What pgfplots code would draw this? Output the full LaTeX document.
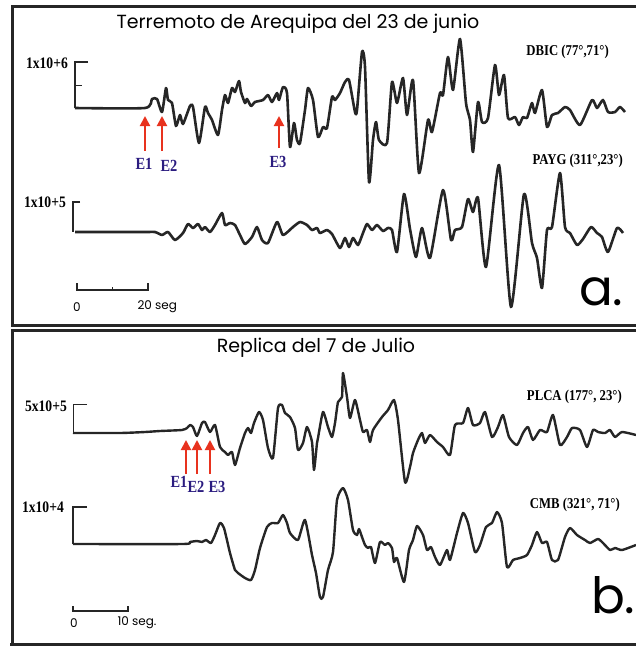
\documentclass[border=0pt]{standalone}
\usepackage{pgfplots}
\pgfplotsset{compat=1.18}
\usepackage{graphicx}
\usepackage{fontspec}
\setmainfont{Liberation Serif}
\newfontfamily\gothic{Poppins}
\usetikzlibrary{arrows.meta}
\definecolor{navy}{HTML}{2B1C80}
\definecolor{arr}{HTML}{E8321E}
\definecolor{trace}{HTML}{262626}
\newcommand{\cond}[2]{\scalebox{0.85}[1]{\bfseries\fontsize{#1}{#1}\selectfont #2}}
\begin{document}
\begin{tikzpicture}
\useasboundingbox (0,0) rectangle (636pt,646pt);
\begin{axis}[at={(0,0)},anchor=south west,scale only axis,width=636pt,height=646pt,
  xmin=0,xmax=636,ymin=0,ymax=646,y dir=reverse,hide axis,clip=false]
% frames
\draw[line width=3pt,black!85] (axis cs:12,646) -- (axis cs:12,330) -- (axis cs:636,330);
\draw[line width=3pt,black!85] (axis cs:10,644) -- (axis cs:636,644);
\draw[line width=3pt,black!85] (axis cs:636,6) -- (axis cs:12,6) -- (axis cs:12,325) -- (axis cs:636,325);
% titles
\node[font=\gothic\fontsize{19}{19}\selectfont] at (axis cs:298,24) {Terremoto de Arequipa del 23 de junio};
\node[font=\gothic\fontsize{19}{19}\selectfont] at (axis cs:316,348) {Replica del 7 de Julio};
\node[font=\gothic\fontsize{50}{50}\selectfont,anchor=base east] at (axis cs:627,305) {a.};
\node[font=\gothic\fontsize{50}{50}\selectfont,anchor=base east] at (axis cs:639,613) {b.};
% station labels
\node[anchor=east,inner sep=0pt] at (axis cs:609,52) {\cond{15}{DBIC (77°,71°)}};
\node[anchor=east,inner sep=0pt] at (axis cs:623,161) {\cond{15}{PAYG (311°,23°)}};
\node[anchor=east,inner sep=0pt] at (axis cs:622,397) {\cond{15}{PLCA (177°, 23°)}};
\node[anchor=east,inner sep=0pt] at (axis cs:620,505) {\cond{15}{CMB (321°, 71°)}};
% amplitude scale bars
\draw[line width=1.8pt,black!85] (axis cs:88,62) -- (axis cs:75,62) -- (axis cs:75,108);
\draw[line width=1pt,black!85] (axis cs:75,85) -- (axis cs:82,85);
\node[anchor=east,inner sep=0pt] at (axis cs:68,63) {\cond{16}{1x10+6}};
\draw[line width=1.8pt,black!85] (axis cs:80,202) -- (axis cs:73,202) -- (axis cs:73,232);
\node[anchor=east,inner sep=0pt] at (axis cs:66,202) {\cond{16}{1x10+5}};
\draw[line width=1pt,black!85] (axis cs:87,404) -- (axis cs:73,404) -- (axis cs:73,433);
\node[anchor=east,inner sep=0pt] at (axis cs:67,406) {\cond{16}{5x10+5}};
\draw[line width=1.4pt,black!85] (axis cs:87,507) -- (axis cs:73,507) -- (axis cs:73,544);
\node[anchor=east,inner sep=0pt] at (axis cs:64,507) {\cond{16}{1x10+4}};
% time scale bars
\draw[line width=1.2pt,black!85] (axis cs:77,283) -- (axis cs:77,290) -- (axis cs:148,290) -- (axis cs:148,283);
\draw[line width=1pt,black!85] (axis cs:112,290) -- (axis cs:112,287);
\node[font=\gothic\fontsize{12}{12}\selectfont] at (axis cs:77,307) {0};
\node[font=\gothic\fontsize{12}{12}\selectfont,anchor=west] at (axis cs:134,307) {20 seg};
\draw[line width=1.2pt,black!85] (axis cs:73,606) -- (axis cs:73,611) -- (axis cs:128,611) -- (axis cs:128,606);
\node[font=\gothic\fontsize{12}{12}\selectfont] at (axis cs:74,623) {0};
\node[font=\gothic\fontsize{12}{12}\selectfont,anchor=west] at (axis cs:114,623) {10 seg.};
% arrows
\draw[arr,line width=2pt,-{Triangle[length=10pt,width=10pt]}] (axis cs:145,151) -- (axis cs:145,116);
\draw[arr,line width=2pt,-{Triangle[length=10pt,width=10pt]}] (axis cs:162,151) -- (axis cs:162,116);
\draw[arr,line width=2pt,-{Triangle[length=10pt,width=10pt]}] (axis cs:279,148) -- (axis cs:279,116);
\draw[arr,line width=2pt,-{Triangle[length=10pt,width=10pt]}] (axis cs:186,474) -- (axis cs:186,440);
\draw[arr,line width=2pt,-{Triangle[length=10pt,width=10pt]}] (axis cs:197,474) -- (axis cs:197,440);
\draw[arr,line width=2pt,-{Triangle[length=10pt,width=10pt]}] (axis cs:210,474) -- (axis cs:210,440);
\node[navy,inner sep=0pt] at (axis cs:144,164) {\cond{17}{E1}};
\node[navy,inner sep=0pt] at (axis cs:169,166) {\cond{17}{E2}};
\node[navy,inner sep=0pt] at (axis cs:278,162) {\cond{17}{E3}};
\node[navy,inner sep=0pt] at (axis cs:179,482) {\cond{17}{E1}};
\node[navy,inner sep=0pt] at (axis cs:196,487) {\cond{17}{E2}};
\node[navy,inner sep=0pt] at (axis cs:217,487) {\cond{17}{E3}};
% traces
\addplot[trace,line width=2.6pt,smooth,tension=0.35,line join=round] coordinates {
(75,108) (145,108) (152,99) (157,99) (162,112) (166,88) (168,100) (172,103) (176,126) (180,115) (183,124) (190,106) (193,107) (199,143) (205,107) (208,113) (212,120) (218,135) (222,110) (225,95) (228,103) (232,88) (235,92) (239,81) (241,92) (245,103) (247,99) (251,106) (255,102) (263,100) (268,95) (272,102) (277,93) (279,100) (283,87) (287,93) (290,147) (294,123) (297,140) (300,143) (305,110) (308,88) (313,100) (318,137) (323,127) (327,128) (332,97) (335,100) (340,93) (345,82) (349,80) (355,112) (357,110) (362,52) (365,67) (369,182) (373,140) (376,122) (379,140) (387,143) (392,82) (397,103) (403,78) (407,115) (413,80) (419,173) (428,120) (432,132) (440,93) (443,95) (448,57) (453,90) (460,39) (466,103) (470,120) (473,152) (478,102) (482,122) (488,118) (495,65) (499,95) (504,75) (508,118) (515,117) (519,125) (523,117) (527,118) (532,103) (535,113) (542,90) (547,127) (552,115) (558,113) (565,107) (570,110) (580,125) (592,100) (597,108) (603,100) (608,112) (615,112) (620,107) (625,112)
};
\addplot[trace,line width=2.6pt,smooth,tension=0.35,line join=round] coordinates {
(75,232) (145,232) (155,232) (162,235) (168,232) (175,240) (183,233) (188,224) (193,228) (198,224) (202,230) (205,227) (210,232) (215,225) (222,213) (225,225) (230,223) (235,225) (240,235) (245,244) (252,237) (257,227) (262,240) (268,243) (277,222) (283,235) (293,227) (300,222) (307,225) (312,230) (317,228) (320,233) (327,230) (332,234) (340,248) (345,238) (349,247) (353,238) (358,245) (363,233) (367,224) (372,230) (377,225) (383,231) (388,228) (392,230) (397,252) (404,194) (410,229) (416,257) (422,228) (430,258) (443,190) (451,240) (455,230) (462,227) (468,199) (473,212) (478,198) (486,267) (499,165) (511,307) (524,194) (532,243) (537,258) (542,288) (547,230) (552,227) (560,173) (565,227) (570,233) (577,245) (583,239) (591,227) (597,233) (602,237) (608,252) (617,228) (623,233)
};
\addplot[trace,line width=2.4pt,smooth,tension=0.35,line join=round] coordinates {
(73,433) (120,433) (145,432) (160,431) (182,430) (187,428) (190,425) (193,427) (197,436) (202,423) (205,422) (210,432) (215,425) (220,447) (225,452) (228,455) (232,452) (235,465) (240,448) (245,433) (248,428) (251,433) (254,423) (259,412) (263,420) (268,448) (273,458) (278,408) (282,405) (285,413) (290,417) (295,428) (298,450) (303,443) (307,427) (312,442) (314,470) (317,443) (318,438) (323,412) (328,427) (332,437) (335,423) (338,402) (342,397) (343,373) (347,397) (350,418) (355,400) (360,420) (363,432) (367,430) (370,442) (373,430) (382,417) (388,410) (394,400) (398,420) (405,482) (410,467) (413,453) (418,440) (422,433) (425,443) (430,435) (437,442) (443,447) (450,455) (455,425) (463,423) (468,408) (473,425) (480,423) (485,412) (492,437) (498,427) (503,415) (509,437) (517,445) (523,433) (528,427) (533,440) (540,430) (547,432) (553,415) (560,445) (567,437) (572,428) (580,430) (587,447) (593,430) (598,432) (605,433) (610,430) (615,437) (622,432) (636,435)
};
\addplot[trace,line width=2.4pt,smooth,tension=0.35,line join=round] coordinates {
(73,544) (183,544) (190,542) (197,541) (202,542) (206,540) (211,543) (215,535) (220,523) (224,528) (230,553) (235,570) (238,573) (245,578) (251,580) (255,570) (260,548) (267,527) (272,523) (278,523) (283,515) (287,523) (290,533) (298,540) (305,520) (312,555) (316,573) (320,597) (323,597) (328,570) (333,552) (337,500) (343,488) (348,500) (353,530) (357,535) (359,529) (362,537) (365,545) (368,548) (371,547) (375,563) (380,542) (385,545) (388,543) (392,548) (394,562) (397,558) (404,582) (409,550) (413,540) (417,526) (423,535) (427,550) (431,547) (435,557) (440,565) (447,550) (450,560) (457,533) (463,513) (468,523) (475,552) (480,545) (486,527) (492,523) (497,512) (502,523) (507,567) (513,560) (520,558) (527,555) (532,545) (537,532) (542,543) (547,542) (552,560) (558,560) (565,537) (570,528) (577,535) (585,540) (590,543) (598,539) (603,543) (610,550) (615,548) (622,550) (636,545)
};
\end{axis}
\end{tikzpicture}
\end{document}
